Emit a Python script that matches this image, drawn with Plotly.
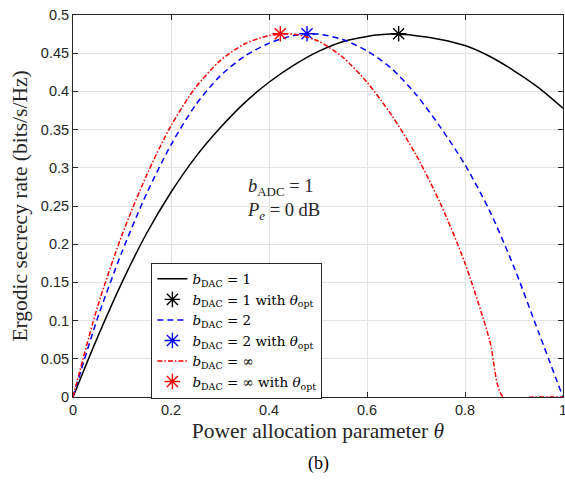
import plotly.graph_objects as go

theta = [0, 0.05, 0.1, 0.15, 0.2, 0.25, 0.3, 0.35, 0.4, 0.45, 0.5, 0.55,
         0.6, 0.65, 0.7, 0.75, 0.8, 0.85, 0.9, 0.95, 1.0]
rate_dac1 = [0, 0.078, 0.150, 0.214, 0.268, 0.314, 0.352, 0.385, 0.412, 0.434,
             0.452, 0.465, 0.472, 0.475, 0.473, 0.468, 0.460, 0.446, 0.427, 0.405, 0.378]
rate_dac2 = [0, 0.103, 0.190, 0.266, 0.330, 0.382, 0.420, 0.446, 0.463, 0.473,
             0.475, 0.468, 0.453, 0.430, 0.396, 0.353, 0.304, 0.244, 0.170, 0.085, 0.0]
theta_inf = [0, 0.05, 0.1, 0.15, 0.2, 0.25, 0.3, 0.35, 0.4, 0.45, 0.5, 0.55,
             0.6, 0.65, 0.7, 0.75, 0.8, 0.85, 0.878, 0.94, 1.0]
rate_dacinf = [0, 0.118, 0.212, 0.290, 0.355, 0.405, 0.440, 0.462, 0.473, 0.475,
               0.466, 0.445, 0.412, 0.369, 0.317, 0.253, 0.175, 0.075, 0.0, 0.0, 0.0]

opt_theta = [0.6646, 0.4776, 0.4230]
opt_rate = [0.4755, 0.4755, 0.4755]

names = ["<i>b</i><sub>DAC</sub> = 1", "<i>b</i><sub>DAC</sub> = 2", "<i>b</i><sub>DAC</sub> = ∞"]
colors = ["#000000", "#0000ff", "#ff0000"]
dashes = ["solid", "6px,4px", "5px,2px,1.5px,2px"]
xs = [theta, theta, theta_inf]
ys = [rate_dac1, rate_dac2, rate_dacinf]

fig = go.Figure()
for i in range(3):
    fig.add_trace(go.Scatter(
        x=xs[i], y=ys[i], mode="lines", name=names[i],
        line=dict(color=colors[i], width=1.5, dash=dashes[i], shape="spline", smoothing=0.8),
    ))
    fig.add_trace(go.Scatter(
        x=[opt_theta[i]], y=[opt_rate[i]], mode="markers",
        name=names[i] + " with <i>θ</i><sub>opt</sub>",
        marker=dict(symbol="asterisk-open", size=13, color=colors[i],
                    line=dict(color=colors[i], width=1.4)),
        cliponaxis=False,
    ))

axis_common = dict(
    showline=True, linecolor="#262626", linewidth=1, mirror="ticks",
    ticks="inside", ticklen=5, tickcolor="#262626",
    showgrid=True, gridcolor="#e3e3e3", gridwidth=1, zeroline=False,
    ticklabeloverflow="allow", automargin=False,
    tickfont=dict(family="Liberation Sans, Arial, sans-serif", size=14.5, color="#262626"),
)

fig.update_xaxes(range=[0, 1], tickvals=[0, 0.2, 0.4, 0.6, 0.8, 1],
                 ticktext=["0", "0.2", "0.4", "0.6", "0.8", "1"],
                 title=dict(text="Power allocation parameter <i>θ</i>", standoff=5,
                            font=dict(family="Liberation Serif, serif", size=21.5, color="#262626")),
                 **axis_common)
yt = [0, 0.05, 0.1, 0.15, 0.2, 0.25, 0.3, 0.35, 0.4, 0.45, 0.5]
fig.update_yaxes(range=[0, 0.5], tickvals=yt,
                 ticktext=["0", "0.05", "0.1", "0.15", "0.2", "0.25", "0.3", "0.35", "0.4", "0.45", "0.5"],
                 title=dict(text="Ergodic secrecy rate (bits/s/Hz)", standoff=7,
                            font=dict(family="Liberation Serif, serif", size=21.5, color="#262626")),
                 **axis_common)

fig.add_annotation(x=0.35, y=0.258, xref="x", yref="y", xanchor="left", yanchor="middle",
                   align="left", showarrow=False,
                   text="<i>b</i><sub>ADC</sub> = 1<br><i>P<sub>e</sub></i> = 0 dB",
                   font=dict(family="Liberation Serif, serif", size=18.5, color="#262626"))
fig.add_annotation(x=0.5, y=-0.175, xref="paper", yref="paper", xanchor="center", yanchor="middle",
                   showarrow=False, text="(b)",
                   font=dict(family="Liberation Serif, serif", size=18, color="#000000"))

fig.update_layout(
    width=565, height=487,
    margin=dict(l=73, r=2, t=15, b=90),
    paper_bgcolor="white", plot_bgcolor="white",
    showlegend=True,
    legend=dict(x=0.16, y=0.352, xanchor="left", yanchor="top",
                bgcolor="white", bordercolor="#262626", borderwidth=1,
                font=dict(family="DejaVu Serif, serif", size=13.5, color="#000000"),
                itemwidth=30, tracegroupgap=0),
)

fig.write_html("out.html",
               config={"displayModeBar": False},
               post_script="document.body.style.margin='0';document.body.style.overflow='hidden';")
